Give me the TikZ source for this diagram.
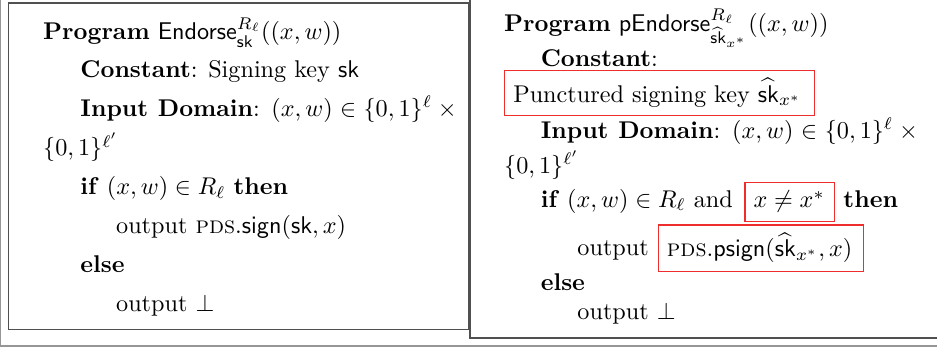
\documentclass[tikz,border=0pt]{standalone}
\usepackage{amsmath,amssymb}
\definecolor{framegray}{RGB}{80,80,80}
\definecolor{rulegray}{RGB}{150,150,150}
\definecolor{markred}{RGB}{238,45,45}
\tikzset{
  codeline/.style={anchor=base west, inner sep=0pt},
  markbox/.style={draw=markred, line width=0.5pt, anchor=north west, inner ysep=0pt},
  boxedge/.style={draw=framegray, line width=0.6pt},
  outeredge/.style={draw=rulegray, line width=0.5pt}
}
\begin{document}
\begin{tikzpicture}[x=0.4132pt, y=-0.4132pt]
\useasboundingbox (0,0) rectangle (937,347);

% outer frame (left and bottom rules)
\coordinate (otop) at (0.8,0);
\coordinate (obl) at (0.8,346);
\coordinate (obr) at (937,346);
\draw[outeredge] (otop) -- (obl) -- (obr);

% left program box
\coordinate (lnw) at (8.5,3);
\coordinate (lse) at (468.6,329.3);
\draw[boxedge] (lnw) rectangle (lse);

% right program box (only left and bottom edges fall inside)
\coordinate (rtop) at (469.8,0);
\coordinate (rbl) at (469.8,338);
\coordinate (rbr) at (937,338);
\draw[boxedge] (rtop) -- (rbl) -- (rbr);

% ---- Program Endorse ----
\node[codeline] (l1) at (42.7,40) {\textbf{Program} $\mathsf{Endorse}^{R_\ell}_{\mathsf{sk}}((x,w))$};
\node[codeline] (l2) at (80,77.7) {\textbf{Constant}: Signing key $\mathsf{sk}$};
\node[codeline] (l3) at (80,116.7) {\makebox[155.4pt][s]{\textbf{Input Domain}: $(x,w)\in\{0,1\}^\ell\mskip\medmuskip\mathord{\times}$}};
\node[codeline] (l4) at (42.7,156) {$\{0,1\}^{\ell'}$};
\node[codeline] (l5) at (80,195) {\textbf{if} $(x,w)\in R_\ell$ \textbf{then}};
\node[codeline] (l6) at (115.7,234) {output \textsc{pds}.$\mathsf{sign}(\mathsf{sk},x)$};
\node[codeline] (l7) at (80,272.7) {\textbf{else}};
\node[codeline] (l8) at (115.7,311.7) {output $\bot$};

% ---- Program pEndorse ----
\node[codeline] (r1) at (503.7,31.7) {\textbf{Program} $\mathsf{pEndorse}^{R_\ell}_{\widehat{\mathsf{sk}}_{x^*}}((x,w))$};
\node[codeline] (r2) at (540.3,66.7) {\textbf{Constant}:};
\node[markbox, inner xsep=3.72pt, text height=13.1pt, text depth=5.5pt] (r3) at (503.7,70)
  {\makebox[120.65pt][l]{Punctured signing key $\widehat{\mathsf{sk}}_{x^*}$}};
\node[codeline] (r4) at (540.3,138.3) {\makebox[155.8pt][s]{\textbf{Input Domain}: $(x,w)\in\{0,1\}^\ell\mskip\medmuskip\mathord{\times}$}};
\node[codeline] (r5) at (503.7,173.3) {$\{0,1\}^{\ell'}$};
\node[codeline] (r6) at (540.3,207.3) {\textbf{if} $(x,w)\in R_\ell$ and};
\node[markbox, inner xsep=3.6pt, text height=10.58pt, text depth=5.54pt] (r6b) at (744.3,181.7)
  {\makebox[29.75pt][l]{$x\neq x^*$}};
\node[codeline] (r6c) at (843,207.3) {\textbf{then}};
\node[codeline] (r7) at (577,256) {output};
\node[markbox, inner xsep=3.55pt, text height=13.1pt, text depth=6.07pt] (r7b) at (657.7,224.3)
  {\makebox[77.72pt][l]{\textsc{pds}.$\mathsf{psign}(\widehat{\mathsf{sk}}_{x^*},x)$}};
\node[codeline] (r8) at (540.3,291) {\textbf{else}};
\node[codeline] (r9) at (577,320) {output $\bot$};
\end{tikzpicture}
\end{document}
